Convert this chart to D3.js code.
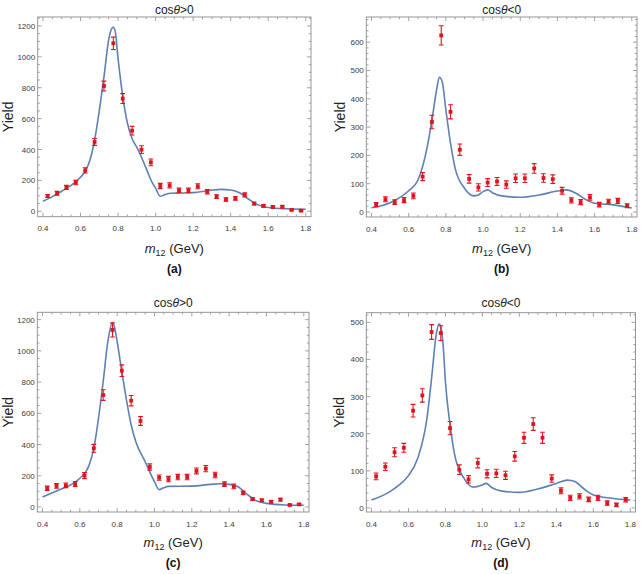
<!DOCTYPE html>
<html>
<head>
<meta charset="utf-8">
<script src="https://cdn.jsdelivr.net/npm/d3@7/dist/d3.min.js"></script>
<style>
  html, body { margin: 0; padding: 0; background: #fff; }
  svg { display: block; }
  text { font-family: "Liberation Sans", Arial, sans-serif; }
</style>
</head>
<body>
<svg id="chart" width="643" height="574"></svg>
<script>
// ---------- data ----------
const binCenters = [0.425,0.475,0.525,0.575,0.625,0.675,0.725,0.775,0.825,0.875,0.925,0.975,1.025,1.075,1.125,1.175,1.225,1.275,1.325,1.375,1.425,1.475,1.525,1.575,1.625,1.675,1.725,1.775];
const xTicks = [0.4,0.6,0.8,1.0,1.2,1.4,1.6,1.8];

const panelTitles = ["cosθ>0", "cosθ<0", "cosθ>0", "cosθ<0"];
const panelCaptions = ["(a)", "(b)", "(c)", "(d)"];

const yieldA = [99,117,155,186,265,449,811,1088,730,522,399,317,164,168,136,136,162,127,95,76,84,106,50,35,28,30,9,4];
const errA   = [10,12,13,14,17,22,32,40,32,28,25,22,17,17,14,14,16,14,12,11,12,13,9,8,7,8,5,4];
const yieldB = [26,45,35,42,57,125,318,624,354,220,117,87,104,108,97,119,119,154,120,116,75,41,35,52,26,37,39,22];
const errB   = [7,9,8,9,10,14,24,34,25,20,15,13,14,14,13,15,15,17,15,15,12,9,9,10,8,8,9,7];
const yieldC = [120,135,139,147,201,376,717,1134,873,681,551,256,188,179,192,192,231,246,205,147,132,90,51,43,34,47,13,17];
const errC   = [14,15,15,16,19,25,34,45,37,33,28,20,17,17,17,17,19,20,18,15,15,12,9,8,8,9,5,5];
const yieldD = [85,111,150,162,262,303,474,471,215,103,77,121,92,93,88,139,189,226,189,79,46,27,31,23,27,13,8,22];
const errD   = [9,10,12,12,17,18,20,20,18,13,10,13,11,11,11,13,15,17,15,10,8,7,7,6,7,6,5,6];

const fitXA = [0.40,0.45,0.50,0.55,0.60,0.625,0.65,0.675,0.70,0.725,0.75,0.765,0.775,0.785,0.80,0.825,0.85,0.875,0.90,0.95,0.98,1.00,1.025,1.05,1.08,1.15,1.20,1.25,1.30,1.35,1.40,1.45,1.50,1.55,1.60,1.70,1.80];
const fitYA = [65,95,130,168,220,258,330,460,650,870,1110,1180,1192,1165,990,745,570,470,415,278,190,150,97,108,117,118,121,128,137,142,138,118,75,40,25,16,13];
const fitXB = [0.40,0.50,0.60,0.65,0.70,0.725,0.75,0.765,0.78,0.80,0.825,0.85,0.90,0.95,0.975,1.00,1.025,1.05,1.10,1.20,1.30,1.40,1.45,1.50,1.55,1.60,1.70,1.80];
const fitYB = [15,33,75,113,231,325,431,476,461,361,243,154,84,57,60,72,78,68,57,52,60,74,78,66,45,31,25,14];
const fitXC = [0.40,0.50,0.55,0.60,0.65,0.675,0.70,0.725,0.75,0.775,0.785,0.80,0.825,0.85,0.875,0.90,0.95,1.00,1.025,1.05,1.075,1.20,1.30,1.35,1.40,1.45,1.50,1.55,1.60,1.70,1.80];
const fitYC = [64,115,141,184,269,376,568,803,1059,1181,1155,1059,867,685,525,418,290,162,111,124,132,134,145,149,145,128,77,38,23,13,11];
const fitXD = [0.40,0.50,0.55,0.60,0.65,0.70,0.725,0.75,0.765,0.775,0.79,0.80,0.825,0.85,0.90,0.95,1.00,1.02,1.05,1.10,1.20,1.30,1.40,1.46,1.50,1.55,1.60,1.70,1.80];
const fitYD = [21,44,62,87,134,241,349,466,496,488,421,340,224,143,80,56,62,66,55,46,42,51,66,75,71,51,35,26,21];

const yTicksBig = [0,200,400,600,800,1000,1200];
const yTicksB = [0,100,200,300,400,500,600];
const yTicksD = [0,100,200,300,400,500];

// ---------- layout ----------
const panels = [
  { frame:[37.7,311,17,216.7],  yDom:[-35,1258],  yTicks:yTicksBig, yMinor:50, ys:yieldA, es:errA, fx:fitXA, fy:fitYA, titleY:10,  yLabBase:12.5, xLabY:248, capY:268 },
  { frame:[366.3,637,17,217],   yDom:[-17.7,689], yTicks:yTicksB,   yMinor:20, ys:yieldB, es:errB, fx:fitXB, fy:fitYB, titleY:10,  yLabBase:344.5,xLabY:248, capY:268 },
  { frame:[37.3,309,312.3,512], yDom:[-32,1247],  yTicks:yTicksBig, yMinor:50, ys:yieldC, es:errC, fx:fitXC, fy:fitYC, titleY:303, yLabBase:12.5, xLabY:542, capY:562 },
  { frame:[366.3,635.5,312.7,512], yDom:[-11,526], yTicks:yTicksD,  yMinor:20, ys:yieldD, es:errD, fx:fitXD, fy:fitYD, titleY:303, yLabBase:344, xLabY:542, capY:562 }
];

const svg = d3.select("#chart");
const FRAME = "#8c8c8c";
const TICKTXT = "#3c3c3c";
const RED = "#e0141c";
const BLUE = "#5e81b5";

panels.forEach((p, i) => {
  const [L, R, T, B] = p.frame;
  const x = d3.scaleLinear().domain([0.372, 1.828]).range([L, R]);
  const y = d3.scaleLinear().domain(p.yDom).range([B, T]);
  const g = svg.append("g");

  const clipId = "clip" + i;
  svg.append("clipPath").attr("id", clipId).append("rect")
    .attr("x", L).attr("y", T).attr("width", R - L).attr("height", B - T);

  const xMinor = d3.range(0.4, 1.8001, 0.05).filter(v => Math.abs(Math.round(v * 5) - v * 5) > 1e-6);
  const yMinor = d3.range(0, p.yDom[1], p.yMinor).filter(v => !p.yTicks.includes(Math.round(v)));

  const tg = g.append("g").attr("stroke", FRAME).attr("stroke-width", 0.8);
  xTicks.forEach(v => {
    tg.append("line").attr("x1", x(v)).attr("x2", x(v)).attr("y1", B).attr("y2", B - 4);
    tg.append("line").attr("x1", x(v)).attr("x2", x(v)).attr("y1", T).attr("y2", T + 4);
  });
  xMinor.forEach(v => {
    tg.append("line").attr("x1", x(v)).attr("x2", x(v)).attr("y1", B).attr("y2", B - 2.2);
    tg.append("line").attr("x1", x(v)).attr("x2", x(v)).attr("y1", T).attr("y2", T + 2.2);
  });
  p.yTicks.forEach(v => {
    tg.append("line").attr("x1", L).attr("x2", L + 4).attr("y1", y(v)).attr("y2", y(v));
    tg.append("line").attr("x1", R).attr("x2", R - 4).attr("y1", y(v)).attr("y2", y(v));
  });
  yMinor.forEach(v => {
    tg.append("line").attr("x1", L).attr("x2", L + 2.2).attr("y1", y(v)).attr("y2", y(v));
    tg.append("line").attr("x1", R).attr("x2", R - 2.2).attr("y1", y(v)).attr("y2", y(v));
  });

  xTicks.forEach(v => {
    g.append("text").attr("x", x(v)).attr("y", B + 14.5)
      .attr("text-anchor", "middle").attr("font-size", 8).attr("fill", TICKTXT)
      .text(d3.format(".1f")(v));
  });
  p.yTicks.forEach(v => {
    g.append("text").attr("x", L - 2.5).attr("y", y(v) + 3)
      .attr("text-anchor", "end").attr("font-size", 8).attr("fill", TICKTXT)
      .text(v);
  });

  const line = d3.line().x((d, k) => x(p.fx[k])).y(d => y(d)).curve(d3.curveMonotoneX);
  g.append("path").attr("clip-path", `url(#${clipId})`)
    .attr("d", line(p.fy)).attr("fill", "none")
    .attr("stroke", BLUE).attr("stroke-width", 1.6);

  const pg = g.append("g").attr("clip-path", `url(#${clipId})`);
  binCenters.forEach((xc, k) => {
    const v = p.ys[k], e = p.es[k];
    const cx = x(xc);
    pg.append("line").attr("x1", cx).attr("x2", cx).attr("y1", y(v - e)).attr("y2", y(v + e))
      .attr("stroke", RED).attr("stroke-width", 1.1);
    [v - e, v + e].forEach(w => {
      pg.append("line").attr("x1", cx - 2.4).attr("x2", cx + 2.4).attr("y1", y(w)).attr("y2", y(w))
        .attr("stroke", RED).attr("stroke-width", 1.1);
    });
    pg.append("rect").attr("x", cx - 1.9).attr("y", y(v) - 1.9).attr("width", 3.8).attr("height", 3.8)
      .attr("fill", RED);
  });

  g.append("rect").attr("x", L).attr("y", T).attr("width", R - L).attr("height", B - T)
    .attr("fill", "none").attr("stroke", FRAME).attr("stroke-width", 0.9);

  const cx = (L + R) / 2;
  const tt = g.append("text").attr("x", cx).attr("y", p.titleY + 4)
    .attr("text-anchor", "middle").attr("font-size", 12).attr("fill", "#222");
  const title = panelTitles[i];
  tt.append("tspan").text("cos");
  tt.append("tspan").attr("font-style", "italic").text("θ");
  tt.append("tspan").text(title.slice(4));

  g.append("text").attr("transform", `translate(${p.yLabBase},${(T + B) / 2}) rotate(-90)`)
    .attr("text-anchor", "middle").attr("font-size", 14).attr("fill", "#222").text("Yield");

  const xl = g.append("text").attr("x", cx).attr("y", p.xLabY + 4.5)
    .attr("text-anchor", "middle").attr("font-size", 13).attr("fill", "#222");
  xl.append("tspan").attr("font-style", "italic").text("m");
  xl.append("tspan").attr("font-size", 9).attr("dy", 3).text("12");
  xl.append("tspan").attr("dy", -3).text(" (GeV)");

  g.append("text").attr("x", cx).attr("y", p.capY + 4.5)
    .attr("text-anchor", "middle").attr("font-size", 12).attr("font-weight", "bold")
    .attr("font-family", "'DejaVu Serif', serif").attr("fill", "#111").text(panelCaptions[i]);
});
</script>
</body>
</html>
